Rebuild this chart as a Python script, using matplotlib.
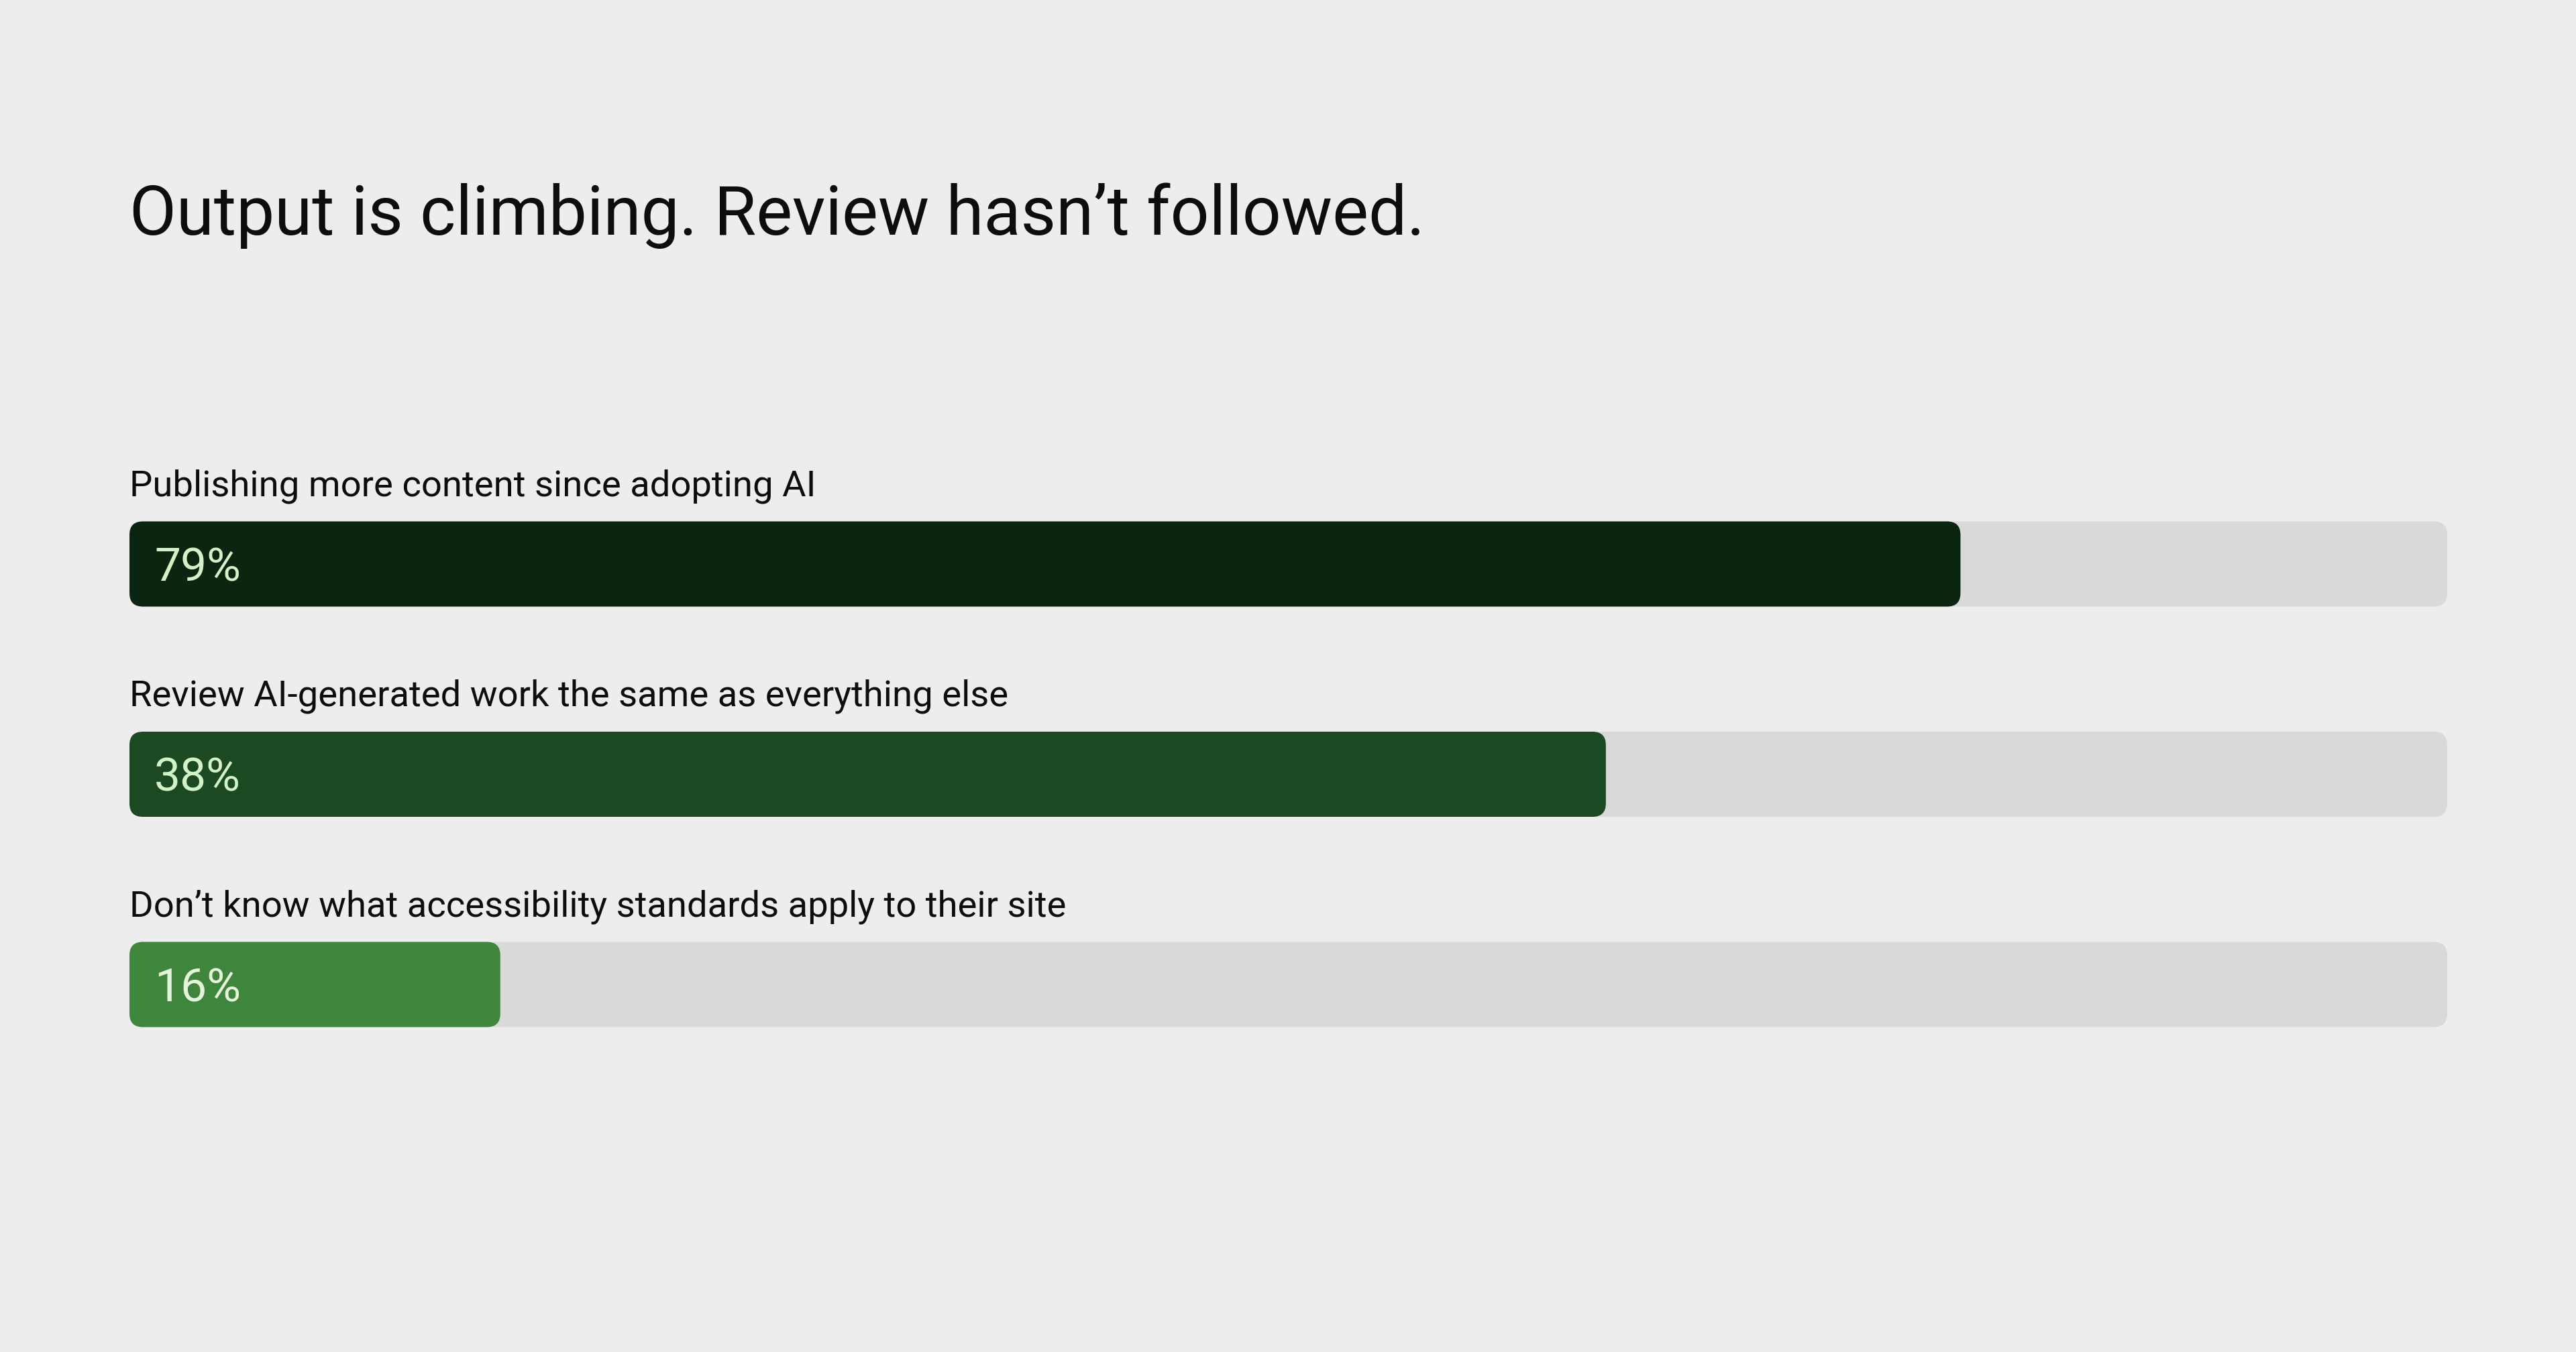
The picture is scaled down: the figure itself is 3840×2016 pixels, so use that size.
import matplotlib
matplotlib.use("Agg")
import matplotlib.pyplot as plt
from matplotlib.patches import FancyBboxPatch, BoxStyle

# ---- data ----
title = "Output is climbing. Review hasn\u2019t followed."
categories = [
    "Publishing more content since adopting AI",
    "Review AI-generated work the same as everything else",
    "Don\u2019t know what accessibility standards apply to their site",
]
bar_lengths = [79, 63.7, 16]        # drawn fill length (percent of track)
value_labels = ["79%", "38%", "16%"]
track_max = 100

bar_colors = ["#0A2611", "#1B4A22", "#3E863C"]
pct_colors = ["#D3F2C6", "#D3F2C6", "#E6F4DE"]
bg = "#EDEDED"
track_color = "#D9D9D9"
text_color = "#0D0D0D"

FONT = "Roboto"
plt.rcParams["font.family"] = [FONT, "DejaVu Sans"]

W, H, DPI = 3840, 2016, 200
fig = plt.figure(figsize=(W / DPI, H / DPI), dpi=DPI, facecolor=bg)

# axes covering the track area
left_px, track_px = 193, 3455
row_px = 313.5
top_px = 841 - row_px / 2
n = len(categories)
ax_h_px = row_px * n
ax = fig.add_axes([left_px / W, 1 - (top_px + ax_h_px) / H, track_px / W, ax_h_px / H])
ax.set_facecolor("none")
ax.set_xlim(0, track_max)
ax.set_ylim(n - 0.5, -0.5)
ax.axis("off")

x_per_px = track_max / track_px
y_per_px = 1.0 / row_px
aspect = y_per_px / x_per_px
radius = 20 * x_per_px
bar_h = 127 * y_per_px

def rbox(x, y, w, h, color, z):
    p = FancyBboxPatch((x, y), w, h,
                       boxstyle=BoxStyle.Round(pad=0, rounding_size=radius),
                       mutation_aspect=aspect, facecolor=color, edgecolor="none",
                       zorder=z)
    ax.add_patch(p)

for i, (cat, val, lab) in enumerate(zip(categories, bar_lengths, value_labels)):
    rbox(0, i - bar_h / 2, track_max, bar_h, track_color, 1)
    rbox(0, i - bar_h / 2, val, bar_h, bar_colors[i], 2)
    ax.text(0, i - 102 * y_per_px, cat, fontsize=19.6, color=text_color,
            va="baseline", ha="left", clip_on=False)
    ax.text(37 * x_per_px, i + 25 * y_per_px, lab, fontsize=25,
            color=pct_colors[i], va="baseline", ha="left", zorder=3)

fig.text(left_px / W, 1 - 350 / H, title, fontsize=36.6, color=text_color,
         va="baseline", ha="left")

fig.savefig("out.png", dpi=DPI, facecolor=bg)
